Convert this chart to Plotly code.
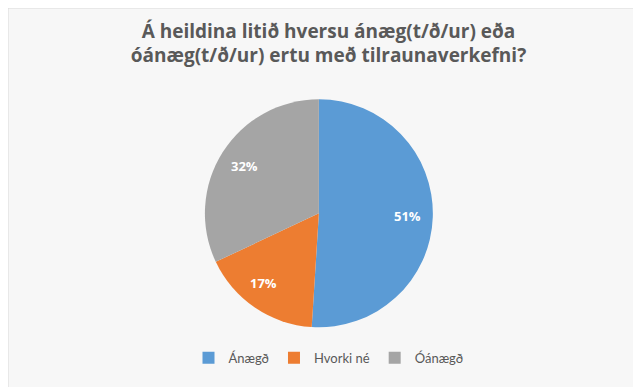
import math
import plotly.graph_objects as go

labels = ["Ánægð", "Hvorki né", "Óánægð"]
values = [51, 17, 32]
colors = ["#5B9BD5", "#ED7D31", "#A5A5A5"]
title_text = "Á heildina litið hversu ánæg(t/ð/ur) eða<br>óánæg(t/ð/ur) ertu með tilraunaverkefni?"

W, H = 641, 387
dom_x = [0.307, 0.663]
dom_y = [0.175, 0.764]
label_radius = [0.78, 0.86, 0.77]  # fraction of pie radius for each label
FONT = "Open Sans, Lato, sans-serif"

fig = go.Figure(go.Pie(
    labels=labels,
    values=values,
    sort=False,
    direction="clockwise",
    rotation=0,
    marker=dict(colors=colors, line=dict(width=0)),
    textinfo="none",
    domain=dict(x=dom_x, y=dom_y),
    hoverinfo="label+percent",
))

# percentage labels placed along each slice's mid-angle (Excel-like best fit)
cx = (dom_x[0] + dom_x[1]) / 2
cy = (dom_y[0] + dom_y[1]) / 2
R_px = min((dom_x[1] - dom_x[0]) * W, (dom_y[1] - dom_y[0]) * H) / 2
total = sum(values)
annotations = []
cum = 0
for v, fr in zip(values, label_radius):
    mid = (cum + v / 2) / total * 2 * math.pi
    cum += v
    r = fr * R_px
    annotations.append(dict(
        x=cx + r * math.sin(mid) / W,
        y=cy + r * math.cos(mid) / H,
        xref="paper", yref="paper",
        text="<b>%d%%</b>" % round(v / total * 100),
        showarrow=False,
        font=dict(color="white", size=13, family=FONT),
    ))

fig.update_layout(
    width=W,
    height=H,
    margin=dict(l=0, r=0, t=0, b=0),
    paper_bgcolor="#f7f7f7",
    plot_bgcolor="#f7f7f7",
    title=dict(
        text="<b>" + title_text + "</b>",
        x=0.5,
        xanchor="center",
        y=0.923,
        yanchor="top",
        font=dict(size=19, color="#595959", family=FONT),
    ),
    legend=dict(
        orientation="h",
        x=0.5,
        xanchor="center",
        y=0.096,
        yanchor="middle",
        font=dict(size=13, color="#595959", family="Lato, sans-serif"),
        itemwidth=30,
        traceorder="normal",
    ),
    annotations=annotations,
    shapes=[
        dict(type="rect", xref="paper", yref="paper", x0=0, y0=0, x1=1, y1=1,
             line=dict(color="#d9d9d9", width=1), fillcolor="rgba(0,0,0,0)"),
    ],
)

fig.write_html("out.html")
